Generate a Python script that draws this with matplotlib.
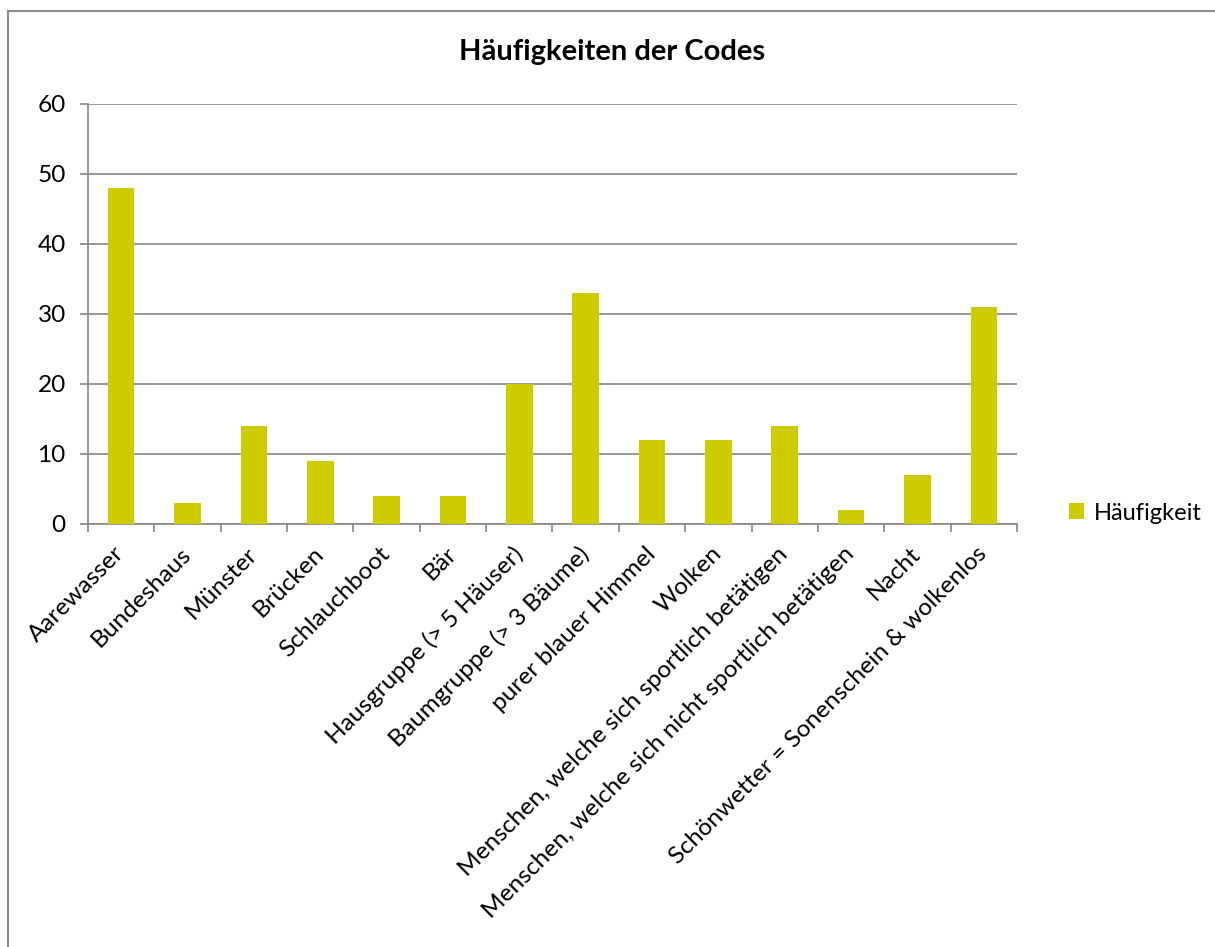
import matplotlib
matplotlib.use("Agg")
import matplotlib.pyplot as plt
from matplotlib.lines import Line2D
import numpy as np

plt.rcParams['font.family'] = ['Lato', 'DejaVu Sans']

categories = ['Aarewasser', 'Bundeshaus', 'Münster', 'Brücken', 'Schlauchboot', 'Bär',
              'Hausgruppe (> 5 Häuser)', 'Baumgruppe (> 3 Bäume)', 'purer blauer Himmel',
              'Wolken', 'Menschen, welche sich sportlich betätigen',
              'Menschen, welche sich nicht sportlich betätigen', 'Nacht',
              'Schönwetter = Sonenschein & wolkenlos']
values = [48, 3, 14, 9, 4, 4, 20, 33, 12, 12, 14, 2, 7, 31]
yticks = [0, 10, 20, 30, 40, 50, 60]

bar_color = '#CCCC00'
grid_color = '#868686'
fs = 17.6

fig = plt.figure(figsize=(12.15, 9.47), dpi=100)
ax = fig.add_axes([88/1215, 1 - 524/947, (1017 - 88)/1215, (524 - 104)/947])

x = np.arange(len(categories))
ax.bar(x, values, width=0.4, color=bar_color, label='Häufigkeit', zorder=3)

ax.set_xlim(-0.5, len(categories) - 0.5)
ax.set_ylim(0, 60)
ax.set_yticks(yticks)
ax.tick_params(axis='y', length=6, color=grid_color, width=1.2, labelsize=fs, pad=10)
ax.yaxis.grid(True, color=grid_color, linewidth=1.2, zorder=0)

ax.set_xticks(x)
ax.set_xticklabels(categories, rotation=45, ha='right', va='center',
                   rotation_mode='anchor', fontsize=fs)
ax.set_xticks(np.arange(len(categories) + 1) - 0.5, minor=True)
ax.tick_params(axis='x', which='major', length=0, pad=19)
ax.tick_params(axis='x', which='minor', length=6, color=grid_color, width=1.2)

for s in ['top', 'right']:
    ax.spines[s].set_visible(False)
for s in ['left', 'bottom']:
    ax.spines[s].set_color(grid_color)
    ax.spines[s].set_linewidth(1.2)

fig.text(612/1215, 1 - 52/947, 'Häufigkeiten der Codes', ha='center', va='center',
         fontsize=21, fontweight='bold')

ax.legend(loc='center left', bbox_to_anchor=(1057/1215, 1 - 513/947),
          bbox_transform=fig.transFigure, frameon=False, fontsize=17,
          handlelength=0.65, handleheight=0.65, handletextpad=0.4, borderpad=0)

# chart border (left and top only visible in the crop)
fig.add_artist(Line2D([8/1215, 8/1215], [0, 1 - 11/947], color='#8c8c8c', lw=1.5,
                      transform=fig.transFigure))
fig.add_artist(Line2D([8/1215, 1], [1 - 11/947, 1 - 11/947], color='#8c8c8c', lw=1.5,
                      transform=fig.transFigure))

fig.savefig('out.png', dpi=100)
